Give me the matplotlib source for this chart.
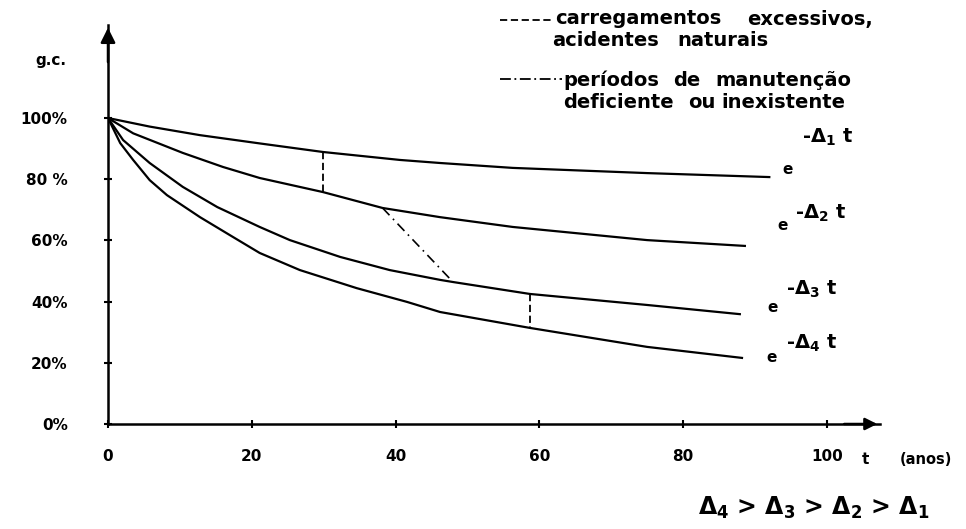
import numpy as np
import matplotlib
import matplotlib.pyplot as plt
from matplotlib.lines import Line2D

matplotlib.use('Agg')

plt.rcParams['font.family'] = ['DejaVu Sans']
plt.rcParams['font.weight'] = 'bold'
plt.rcParams['mathtext.fontset'] = 'dejavusans'
plt.rcParams['mathtext.default'] = 'bf'

# curves (t in anos, g.c. in %)
t1 = [0, 5.8, 12.8, 21.1, 29.9, 40.6, 46.2, 56.3, 75, 92]
g1 = [100, 97.2, 94.4, 91.7, 88.9, 86.3, 85.3, 83.7, 82, 80.7]

t2 = [0, 3.5, 10.4, 16, 21.1, 29.9, 38.2, 46.2, 56.3, 75, 88.6]
g2 = [100, 95, 88.6, 84, 80.4, 75.8, 70.6, 67.6, 64.4, 60.1, 58.2]

t3 = [0, 2.1, 5.8, 10.4, 15.2, 21.1, 25.3, 32.3, 39.2, 46.2, 48, 58.7, 75, 87.9]
g3 = [100, 92.8, 85.3, 77.5, 70.9, 64.4, 60.1, 54.6, 50.3, 47.1, 46.4, 42.5, 38.9, 35.9]

t4 = [0, 1.7, 3.5, 5.8, 8.2, 12.8, 17.4, 21.1, 26.7, 34.6, 41.6, 46.2, 58.7, 75, 88.2]
g4 = [100, 91.8, 86.3, 79.7, 74.8, 67.6, 61.1, 55.9, 50.3, 44.4, 39.9, 36.6, 31.4, 25.2, 21.6]

# transitions between curves
jump_a_t = [29.9, 29.9]
jump_a_g = [88.9, 75.8]
jump_b_t = [58.7, 58.7]
jump_b_g = [42.5, 31.4]
drop_t = [38.2, 48]
drop_g = [70.6, 46.4]

xticks = [0, 20, 40, 60, 80, 100]
yticks = [0, 20, 40, 60, 80, 100]
ylabels = ['0%', '20%', '40%', '60%', '80 %', '100%']

W, H = 966, 529
fig = plt.figure(figsize=(W / 100, H / 100), dpi=100)


def fx(x):
    return x / W


def fy(y):
    return 1 - y / H


ax = fig.add_axes([fx(108), fy(424), (880 - 108) / W, (424 - 25) / H])
ax.set_xlim(0, 107.4)
ax.set_ylim(0, 130.4)

lw = 1.6
ax.plot(t1, g1, color='black', lw=lw)
ax.plot(t2, g2, color='black', lw=lw)
ax.plot(t3, g3, color='black', lw=lw)
ax.plot(t4, g4, color='black', lw=lw)
ax.plot(jump_a_t, jump_a_g, color='black', lw=1.3, ls=(0, (4, 2)))
ax.plot(jump_b_t, jump_b_g, color='black', lw=1.3, ls=(0, (4, 2)))
ax.plot(drop_t, drop_g, color='black', lw=1.2, ls=(0, (6, 3, 1, 3)))

for s in ['top', 'right']:
    ax.spines[s].set_visible(False)
for s in ['left', 'bottom']:
    ax.spines[s].set_linewidth(1.8)

ax.annotate('', xy=(0, 1), xytext=(0, 0.9), xycoords='axes fraction',
            arrowprops=dict(arrowstyle='-|>', color='black', lw=1.8, mutation_scale=22))
ax.annotate('', xy=(1, 0), xytext=(0.95, 0), xycoords='axes fraction',
            arrowprops=dict(arrowstyle='-|>', color='black', lw=1.8, mutation_scale=18))

ax.set_xticks(xticks)
ax.set_xticklabels([str(v) for v in xticks])
ax.set_yticks(yticks)
ax.set_yticklabels(ylabels)
ax.tick_params(axis='both', direction='inout', length=6, width=1.5, labelsize=11)
ax.tick_params(axis='x', pad=15)
ax.tick_params(axis='y', pad=26)

fig.text(fx(35), fy(60), 'g.c.', fontsize=11, va='center', ha='left')
fig.text(fx(865), fy(460), 't', fontsize=11, va='center', ha='center')
fig.text(fx(900), fy(460), '(anos)', fontsize=10.5, va='center', ha='left')

# legend for the line styles
fig.add_artist(Line2D([fx(500), fx(553)], [fy(20), fy(20)], color='black', lw=1.3,
                      ls=(0, (4, 2))))
fig.add_artist(Line2D([fx(500), fx(562)], [fy(79), fy(79)], color='black', lw=1.3,
                      ls=(0, (6, 2, 1, 2))))
legend_words = [(555, 19, 'carregamentos'), (747, 19, 'excessivos,'),
                (552, 41, 'acidentes'), (677, 41, 'naturais'),
                (563, 80, 'períodos'), (673, 80, 'de'), (715, 80, 'manutenção'),
                (563, 102, 'deficiente'), (688, 102, 'ou'), (721, 102, 'inexistente')]
for x, y, w in legend_words:
    fig.text(fx(x), fy(y), w, fontsize=14, va='center', ha='left')

# curve labels
curve_labels = [(788, 170, 802, 137, '1'), (783, 225, 795, 213, '2'),
                (773, 308, 786, 289, '3'), (772, 358, 786, 343, '4')]
for ex, ey, sx, sy, k in curve_labels:
    fig.text(fx(ex), fy(ey), 'e', fontsize=11, va='center', ha='center')
    fig.text(fx(sx), fy(sy), r'-$\Delta_{%s}$ t' % k, fontsize=14, va='center', ha='left')

fig.text(fx(698), fy(508), r'$\Delta_4$ > $\Delta_3$ > $\Delta_2$ > $\Delta_1$', fontsize=17,
         va='center', ha='left')

fig.savefig('out.png', dpi=100)
